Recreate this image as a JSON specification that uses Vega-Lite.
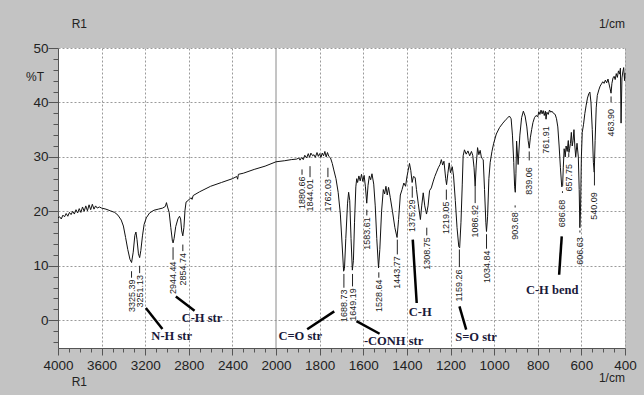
{
  "$schema": "https://vega.github.io/schema/vega-lite/v6.json",
  "width": 567,
  "height": 300,
  "autosize": {"type": "none"},
  "padding": {"left": 58, "top": 48, "right": 19, "bottom": 47},
  "background": "#c3c3c3",
  "config": {
    "view": {"stroke": null, "fill": "white"},
    "font": "Liberation Sans"
  },
  "datasets": {
    "spectrum": [
      {"wn": 4000, "pt": 18.8}, {"wn": 3985, "pt": 19.0}, {"wn": 3970, "pt": 18.6}, {"wn": 3955, "pt": 19.3},
      {"wn": 3940, "pt": 19.0}, {"wn": 3925, "pt": 19.6}, {"wn": 3910, "pt": 19.1}, {"wn": 3895, "pt": 19.8},
      {"wn": 3880, "pt": 19.4}, {"wn": 3865, "pt": 20.0}, {"wn": 3850, "pt": 19.5}, {"wn": 3835, "pt": 20.3},
      {"wn": 3820, "pt": 19.7}, {"wn": 3805, "pt": 20.5}, {"wn": 3790, "pt": 19.8}, {"wn": 3775, "pt": 20.8},
      {"wn": 3760, "pt": 20.0}, {"wn": 3745, "pt": 21.0}, {"wn": 3730, "pt": 20.1}, {"wn": 3715, "pt": 21.2},
      {"wn": 3700, "pt": 20.3}, {"wn": 3685, "pt": 21.3}, {"wn": 3670, "pt": 20.4}, {"wn": 3655, "pt": 21.0},
      {"wn": 3640, "pt": 20.6}, {"wn": 3620, "pt": 20.8}, {"wn": 3600, "pt": 20.6}, {"wn": 3560, "pt": 20.4},
      {"wn": 3520, "pt": 20.1}, {"wn": 3480, "pt": 19.8}, {"wn": 3450, "pt": 19.3}, {"wn": 3420, "pt": 18.4},
      {"wn": 3400, "pt": 17.3}, {"wn": 3380, "pt": 15.2}, {"wn": 3360, "pt": 13.0}, {"wn": 3340, "pt": 11.2},
      {"wn": 3325, "pt": 10.6}, {"wn": 3310, "pt": 12.5}, {"wn": 3295, "pt": 15.6}, {"wn": 3285, "pt": 16.2},
      {"wn": 3275, "pt": 14.8}, {"wn": 3262, "pt": 12.2}, {"wn": 3251, "pt": 11.5}, {"wn": 3240, "pt": 12.8},
      {"wn": 3225, "pt": 15.5}, {"wn": 3210, "pt": 17.6}, {"wn": 3190, "pt": 18.8}, {"wn": 3160, "pt": 19.7},
      {"wn": 3120, "pt": 20.2}, {"wn": 3080, "pt": 20.4}, {"wn": 3040, "pt": 20.6}, {"wn": 3015, "pt": 20.9},
      {"wn": 3005, "pt": 21.6}, {"wn": 2995, "pt": 20.8}, {"wn": 2980, "pt": 19.8}, {"wn": 2965, "pt": 17.0},
      {"wn": 2950, "pt": 14.5}, {"wn": 2944, "pt": 14.2}, {"wn": 2935, "pt": 15.0}, {"wn": 2920, "pt": 17.2},
      {"wn": 2900, "pt": 18.6}, {"wn": 2885, "pt": 19.1}, {"wn": 2875, "pt": 18.6}, {"wn": 2865, "pt": 16.4},
      {"wn": 2855, "pt": 15.5}, {"wn": 2845, "pt": 17.0}, {"wn": 2835, "pt": 20.2}, {"wn": 2825, "pt": 21.7},
      {"wn": 2800, "pt": 22.1}, {"wn": 2780, "pt": 22.5}, {"wn": 2770, "pt": 22.2}, {"wn": 2760, "pt": 22.9},
      {"wn": 2700, "pt": 23.6}, {"wn": 2600, "pt": 24.6}, {"wn": 2500, "pt": 25.3}, {"wn": 2400, "pt": 26.0},
      {"wn": 2360, "pt": 26.4}, {"wn": 2352, "pt": 25.9}, {"wn": 2345, "pt": 26.8}, {"wn": 2300, "pt": 27.0},
      {"wn": 2200, "pt": 27.7}, {"wn": 2100, "pt": 28.3}, {"wn": 2000, "pt": 29.1}, {"wn": 1960, "pt": 29.3},
      {"wn": 1930, "pt": 29.5}, {"wn": 1905, "pt": 29.6}, {"wn": 1895, "pt": 29.8}, {"wn": 1890, "pt": 29.4},
      {"wn": 1882, "pt": 29.9}, {"wn": 1875, "pt": 29.5}, {"wn": 1868, "pt": 30.3}, {"wn": 1860, "pt": 29.8},
      {"wn": 1852, "pt": 30.6}, {"wn": 1846, "pt": 29.9}, {"wn": 1840, "pt": 30.7}, {"wn": 1832, "pt": 30.2},
      {"wn": 1826, "pt": 30.4}, {"wn": 1820, "pt": 29.9}, {"wn": 1812, "pt": 30.8}, {"wn": 1806, "pt": 30.1},
      {"wn": 1800, "pt": 30.6}, {"wn": 1794, "pt": 29.9}, {"wn": 1788, "pt": 30.7}, {"wn": 1782, "pt": 30.2},
      {"wn": 1776, "pt": 31.0}, {"wn": 1770, "pt": 30.0}, {"wn": 1764, "pt": 30.8}, {"wn": 1758, "pt": 30.1},
      {"wn": 1750, "pt": 29.8}, {"wn": 1742, "pt": 28.8}, {"wn": 1735, "pt": 27.6}, {"wn": 1725, "pt": 26.0},
      {"wn": 1715, "pt": 23.5}, {"wn": 1705, "pt": 19.5}, {"wn": 1697, "pt": 14.0}, {"wn": 1690, "pt": 9.0},
      {"wn": 1686, "pt": 9.5}, {"wn": 1680, "pt": 15.0}, {"wn": 1672, "pt": 21.5}, {"wn": 1667, "pt": 23.5},
      {"wn": 1662, "pt": 22.0}, {"wn": 1656, "pt": 15.0}, {"wn": 1650, "pt": 9.2}, {"wn": 1645, "pt": 11.0},
      {"wn": 1640, "pt": 18.0}, {"wn": 1634, "pt": 24.5}, {"wn": 1630, "pt": 26.0}, {"wn": 1626, "pt": 25.3},
      {"wn": 1620, "pt": 26.5}, {"wn": 1614, "pt": 25.6}, {"wn": 1608, "pt": 26.8}, {"wn": 1602, "pt": 25.5},
      {"wn": 1596, "pt": 26.6}, {"wn": 1590, "pt": 24.5}, {"wn": 1584, "pt": 21.5}, {"wn": 1578, "pt": 24.8},
      {"wn": 1572, "pt": 26.5}, {"wn": 1566, "pt": 25.8}, {"wn": 1560, "pt": 26.9}, {"wn": 1552, "pt": 25.0},
      {"wn": 1545, "pt": 21.0}, {"wn": 1538, "pt": 15.0}, {"wn": 1530, "pt": 9.6}, {"wn": 1524, "pt": 13.0},
      {"wn": 1516, "pt": 20.0}, {"wn": 1508, "pt": 24.0}, {"wn": 1502, "pt": 23.2}, {"wn": 1496, "pt": 24.6},
      {"wn": 1490, "pt": 23.0}, {"wn": 1484, "pt": 24.4}, {"wn": 1476, "pt": 22.5}, {"wn": 1466, "pt": 20.0},
      {"wn": 1455, "pt": 17.0}, {"wn": 1445, "pt": 15.2}, {"wn": 1438, "pt": 18.5}, {"wn": 1430, "pt": 23.0},
      {"wn": 1422, "pt": 24.0}, {"wn": 1414, "pt": 25.2}, {"wn": 1406, "pt": 24.6}, {"wn": 1400, "pt": 26.3},
      {"wn": 1394, "pt": 27.5}, {"wn": 1388, "pt": 28.8}, {"wn": 1382, "pt": 27.5}, {"wn": 1376, "pt": 25.3},
      {"wn": 1370, "pt": 26.4}, {"wn": 1362, "pt": 26.2}, {"wn": 1356, "pt": 24.0}, {"wn": 1348, "pt": 21.5},
      {"wn": 1338, "pt": 18.5}, {"wn": 1332, "pt": 21.0}, {"wn": 1325, "pt": 23.4}, {"wn": 1318, "pt": 21.0},
      {"wn": 1310, "pt": 19.5}, {"wn": 1303, "pt": 21.0}, {"wn": 1296, "pt": 23.8}, {"wn": 1288, "pt": 24.3},
      {"wn": 1280, "pt": 25.4}, {"wn": 1272, "pt": 26.4}, {"wn": 1264, "pt": 27.2}, {"wn": 1256, "pt": 28.0},
      {"wn": 1248, "pt": 28.6}, {"wn": 1242, "pt": 29.5}, {"wn": 1236, "pt": 28.5}, {"wn": 1230, "pt": 29.2},
      {"wn": 1222, "pt": 26.0}, {"wn": 1218, "pt": 24.9}, {"wn": 1212, "pt": 27.0}, {"wn": 1206, "pt": 28.9},
      {"wn": 1200, "pt": 27.1}, {"wn": 1192, "pt": 28.2}, {"wn": 1186, "pt": 26.5}, {"wn": 1178, "pt": 22.0},
      {"wn": 1170, "pt": 17.0}, {"wn": 1162, "pt": 13.5}, {"wn": 1158, "pt": 13.3}, {"wn": 1152, "pt": 18.0},
      {"wn": 1146, "pt": 25.0}, {"wn": 1142, "pt": 30.2}, {"wn": 1136, "pt": 31.3}, {"wn": 1128, "pt": 30.5},
      {"wn": 1120, "pt": 31.1}, {"wn": 1112, "pt": 30.2}, {"wn": 1104, "pt": 31.0}, {"wn": 1098, "pt": 30.3},
      {"wn": 1092, "pt": 28.0}, {"wn": 1087, "pt": 24.6}, {"wn": 1082, "pt": 28.5}, {"wn": 1076, "pt": 31.7},
      {"wn": 1070, "pt": 30.4}, {"wn": 1064, "pt": 31.2}, {"wn": 1058, "pt": 29.8}, {"wn": 1050, "pt": 29.5},
      {"wn": 1044, "pt": 24.0}, {"wn": 1038, "pt": 18.0}, {"wn": 1035, "pt": 16.3}, {"wn": 1030, "pt": 19.0},
      {"wn": 1024, "pt": 26.0}, {"wn": 1018, "pt": 29.0}, {"wn": 1010, "pt": 31.0}, {"wn": 1002, "pt": 32.5},
      {"wn": 990, "pt": 34.2}, {"wn": 975, "pt": 35.4}, {"wn": 960, "pt": 36.2}, {"wn": 945, "pt": 36.9},
      {"wn": 930, "pt": 37.5}, {"wn": 922, "pt": 37.0}, {"wn": 916, "pt": 34.0}, {"wn": 910, "pt": 29.0},
      {"wn": 906, "pt": 24.5}, {"wn": 903, "pt": 23.5}, {"wn": 900, "pt": 27.0}, {"wn": 897, "pt": 32.9},
      {"wn": 890, "pt": 28.6}, {"wn": 882, "pt": 34.0}, {"wn": 874, "pt": 37.2}, {"wn": 866, "pt": 38.4},
      {"wn": 858, "pt": 37.5}, {"wn": 850, "pt": 35.5}, {"wn": 844, "pt": 33.0}, {"wn": 839, "pt": 31.6},
      {"wn": 834, "pt": 33.5}, {"wn": 828, "pt": 35.0}, {"wn": 822, "pt": 36.3}, {"wn": 815, "pt": 37.2},
      {"wn": 808, "pt": 37.6}, {"wn": 800, "pt": 37.4}, {"wn": 795, "pt": 38.3}, {"wn": 790, "pt": 37.8},
      {"wn": 785, "pt": 38.6}, {"wn": 780, "pt": 37.9}, {"wn": 775, "pt": 38.5}, {"wn": 770, "pt": 37.6},
      {"wn": 765, "pt": 38.4}, {"wn": 762, "pt": 37.0}, {"wn": 758, "pt": 38.2}, {"wn": 752, "pt": 37.8},
      {"wn": 746, "pt": 38.6}, {"wn": 740, "pt": 38.2}, {"wn": 735, "pt": 38.4}, {"wn": 728, "pt": 38.0},
      {"wn": 720, "pt": 37.8}, {"wn": 714, "pt": 37.0}, {"wn": 708, "pt": 35.5}, {"wn": 702, "pt": 32.0},
      {"wn": 696, "pt": 28.0}, {"wn": 690, "pt": 24.5}, {"wn": 686, "pt": 24.7}, {"wn": 683, "pt": 28.0},
      {"wn": 679, "pt": 31.5}, {"wn": 674, "pt": 30.0}, {"wn": 670, "pt": 32.0}, {"wn": 665, "pt": 31.0},
      {"wn": 660, "pt": 33.0}, {"wn": 657, "pt": 30.8}, {"wn": 654, "pt": 31.5}, {"wn": 650, "pt": 32.5},
      {"wn": 646, "pt": 34.5}, {"wn": 642, "pt": 32.0}, {"wn": 638, "pt": 33.0}, {"wn": 634, "pt": 35.0},
      {"wn": 630, "pt": 32.0}, {"wn": 626, "pt": 30.0}, {"wn": 620, "pt": 32.5}, {"wn": 614, "pt": 30.0},
      {"wn": 610, "pt": 24.0}, {"wn": 607, "pt": 17.0}, {"wn": 604, "pt": 20.0}, {"wn": 600, "pt": 30.0},
      {"wn": 596, "pt": 34.5}, {"wn": 590, "pt": 36.0}, {"wn": 584, "pt": 38.0}, {"wn": 578, "pt": 39.5},
      {"wn": 572, "pt": 40.8}, {"wn": 566, "pt": 41.6}, {"wn": 561, "pt": 41.9}, {"wn": 556, "pt": 40.0},
      {"wn": 550, "pt": 35.0}, {"wn": 545, "pt": 29.0}, {"wn": 541, "pt": 27.2}, {"wn": 537, "pt": 33.0},
      {"wn": 532, "pt": 39.0}, {"wn": 527, "pt": 41.3}, {"wn": 520, "pt": 42.3}, {"wn": 514, "pt": 43.0},
      {"wn": 508, "pt": 43.4}, {"wn": 502, "pt": 43.8}, {"wn": 496, "pt": 43.5}, {"wn": 490, "pt": 44.1},
      {"wn": 484, "pt": 43.6}, {"wn": 478, "pt": 44.3}, {"wn": 472, "pt": 43.2}, {"wn": 468, "pt": 42.5},
      {"wn": 464, "pt": 41.7}, {"wn": 460, "pt": 43.5}, {"wn": 455, "pt": 44.5}, {"wn": 450, "pt": 44.8},
      {"wn": 445, "pt": 44.2}, {"wn": 440, "pt": 45.3}, {"wn": 435, "pt": 44.6}, {"wn": 430, "pt": 45.8},
      {"wn": 425, "pt": 45.2}, {"wn": 421, "pt": 46.3}, {"wn": 418, "pt": 36.2}, {"wn": 414, "pt": 44.5},
      {"wn": 410, "pt": 45.6}, {"wn": 406, "pt": 46.4}, {"wn": 402, "pt": 44.0}, {"wn": 400, "pt": 45.4}
    ],
    "peaks": [
      {"wn": 3325.39, "pt": 9.0, "base": 1.51}, {"wn": 3251.13, "pt": 10.0, "base": 2.35},
      {"wn": 2944.44, "pt": 13.4, "base": 4.81}, {"wn": 2854.74, "pt": 13.9, "base": 6.39},
      {"wn": 1880.66, "pt": 27.7, "base": 20.42}, {"wn": 1844.01, "pt": 28.3, "base": 19.98},
      {"wn": 1762.03, "pt": 28.0, "base": 19.98}, {"wn": 1688.73, "pt": 8.5, "base": -0.33},
      {"wn": 1649.19, "pt": 8.5, "base": -0.09}, {"wn": 1583.61, "pt": 20.3, "base": 12.95},
      {"wn": 1528.64, "pt": 8.8, "base": 1.51}, {"wn": 1443.77, "pt": 14.8, "base": 5.79},
      {"wn": 1375.29, "pt": 24.6, "base": 16.2}, {"wn": 1308.75, "pt": 17.0, "base": 9.28},
      {"wn": 1219.05, "pt": 24.0, "base": 15.83}, {"wn": 1159.26, "pt": 13.0, "base": 3.45},
      {"wn": 1086.92, "pt": 24.6, "base": 15.21}, {"wn": 1034.84, "pt": 15.8, "base": 6.83},
      {"wn": 903.68, "pt": 20.7, "base": 14.79}, {"wn": 839.06, "pt": 31.0, "base": 23.05},
      {"wn": 761.91, "pt": 37.2, "base": 30.58}, {"wn": 686.68, "pt": 23.7, "base": 17.08},
      {"wn": 657.75, "pt": 30.7, "base": 23.66}, {"wn": 606.63, "pt": 16.1, "base": 10.19},
      {"wn": 540.09, "pt": 27.4, "base": 18.46}, {"wn": 463.90, "pt": 41.1, "base": 33.76}
    ],
    "pointers": [
      {"wn": 3194, "pt": 2.24, "wn2": 3042, "pt2": -1.62},
      {"wn": 2919, "pt": 4.37, "wn2": 2747, "pt2": 1.74},
      {"wn": 1857, "pt": -1.65, "wn2": 1733, "pt2": 1.62},
      {"wn": 1631, "pt": -0.18, "wn2": 1525, "pt2": -2.48},
      {"wn": 1373, "pt": 14.8, "wn2": 1355, "pt2": 3.16},
      {"wn": 1159, "pt": 2.53, "wn2": 1128, "pt2": -1.74},
      {"wn": 690, "pt": 15.4, "wn2": 702, "pt2": 8.36}
    ],
    "groups": [
      {"wn": 2957, "pt": -2.98, "label": "N-H str"},
      {"wn": 2679, "pt": 0.4, "label": "C-H str"},
      {"wn": 1889, "pt": -2.98, "label": "C=O str"},
      {"wn": 1461, "pt": -3.9, "label": "-CONH str"},
      {"wn": 1339, "pt": 1.5, "label": "C-H"},
      {"wn": 1083, "pt": -3.0, "label": "S=O str"},
      {"wn": 734, "pt": 5.5, "label": "C-H bend"}
    ],
    "frame": [
      {"wn": 3804, "pt": 54.46, "label": "R1"},
      {"wn": 460, "pt": 54.46, "label": "1/cm"},
      {"wn": 3804, "pt": -11.3, "label": "R1"},
      {"wn": 460, "pt": -10.56, "label": "1/cm"},
      {"wn": 4211, "pt": 44.7, "label": "%T"}
    ],
    "divider": [
      {"wn": 2000, "pt": -5.1, "pt2": 50}
    ]
  },
  "encoding": {
    "x": {
      "field": "wn",
      "type": "quantitative",
      "scale": {"type": "linear", "domain": [4000, 2000, 400], "range": [0, 218, 567], "nice": false, "zero": false},
      "axis": {
        "title": null,
        "values": [4000, 3900, 3800, 3700, 3600, 3500, 3400, 3300, 3200, 3100, 3000, 2900, 2800, 2700, 2600, 2500, 2400, 2300, 2200, 2100, 2000,
                   1950, 1900, 1850, 1800, 1750, 1700, 1650, 1600, 1550, 1500, 1450, 1400, 1350, 1300, 1250, 1200, 1150, 1100, 1050, 1000,
                   950, 900, 850, 800, 750, 700, 650, 600, 550, 500, 450, 400],
        "format": "d",
        "labelExpr": "indexof([4000,3600,3200,2800,2400,2000,1800,1600,1400,1200,1000,800,600,400], datum.value) >= 0 ? datum.label : ''",
        "labelOverlap": false,
        "labelFlush": false,
        "labelFont": "Liberation Sans",
        "labelFontSize": 13.5,
        "labelColor": "#222222",
        "labelPadding": 3,
        "domainColor": "#555555",
        "tickColor": "#555555",
        "tickSize": {"condition": {"test": "indexof([4000,3600,3200,2800,2400,2000,1800,1600,1400,1200,1000,800,600,400], datum.value) >= 0", "value": 7}, "value": 4},
        "grid": true,
        "gridColor": "#9a9a9a",
        "gridDash": [2, 2],
        "gridOpacity": {"condition": {"test": "indexof([3600,3200,2800,2400,1800,1600,1400,1200,1000,800,600,400], datum.value) >= 0", "value": 1}, "value": 0}
      }
    },
    "y": {
      "field": "pt",
      "type": "quantitative",
      "scale": {"domain": [-5.1, 50], "nice": false, "zero": false},
      "axis": {
        "title": null,
        "values": [-4, -2, 0, 2, 4, 6, 8, 10, 12, 14, 16, 18, 20, 22, 24, 26, 28, 30, 32, 34, 36, 38, 40, 42, 44, 46, 48, 50],
        "labelExpr": "datum.value % 10 == 0 ? datum.label : ''",
        "labelOverlap": false,
        "labelFlush": false,
        "labelFont": "Liberation Sans",
        "labelFontSize": 13.5,
        "labelColor": "#222222",
        "labelPadding": 0,
        "domainColor": "#555555",
        "tickColor": "#555555",
        "tickSize": {"condition": {"test": "datum.value % 10 == 0", "value": 10}, "value": 5},
        "grid": true,
        "gridColor": "#9a9a9a",
        "gridDash": [2, 2],
        "gridOpacity": {"condition": {"test": "datum.value % 10 == 0", "value": 1}, "value": 0}
      }
    }
  },
  "layer": [
    {
      "data": {"name": "divider"},
      "mark": {"type": "rule", "color": "#8a8a8a", "strokeWidth": 1},
      "encoding": {"y2": {"field": "pt2"}}
    },
    {
      "data": {"name": "spectrum"},
      "mark": {"type": "line", "color": "#111111", "strokeWidth": 1, "interpolate": "linear"}
    },
    {
      "data": {"name": "peaks"},
      "transform": [{"calculate": "datum.base + 6.3", "as": "leadEnd"}],
      "mark": {"type": "rule", "color": "#222222", "strokeWidth": 1},
      "encoding": {"y2": {"field": "leadEnd"}}
    },
    {
      "data": {"name": "peaks"},
      "transform": [{"calculate": "format(datum.wn, '.2f')", "as": "tag"}],
      "mark": {"type": "text", "angle": 270, "align": "left", "baseline": "middle", "font": "Liberation Sans", "fontSize": 9, "color": "#222222"},
      "encoding": {"y": {"field": "base", "type": "quantitative"}, "text": {"field": "tag"}}
    },
    {
      "data": {"name": "pointers"},
      "mark": {"type": "rule", "color": "#000000", "strokeWidth": 2.5},
      "encoding": {"x2": {"field": "wn2"}, "y2": {"field": "pt2"}}
    },
    {
      "data": {"name": "groups"},
      "mark": {"type": "text", "align": "center", "baseline": "middle", "font": "Liberation Serif", "fontWeight": "bold", "fontSize": 12.5, "color": "#1a1a3a"},
      "encoding": {"text": {"field": "label"}}
    },
    {
      "data": {"name": "frame"},
      "mark": {"type": "text", "align": "center", "baseline": "middle", "font": "Liberation Sans", "fontSize": 12, "color": "#222222", "clip": false},
      "encoding": {"text": {"field": "label"}}
    }
  ]
}
